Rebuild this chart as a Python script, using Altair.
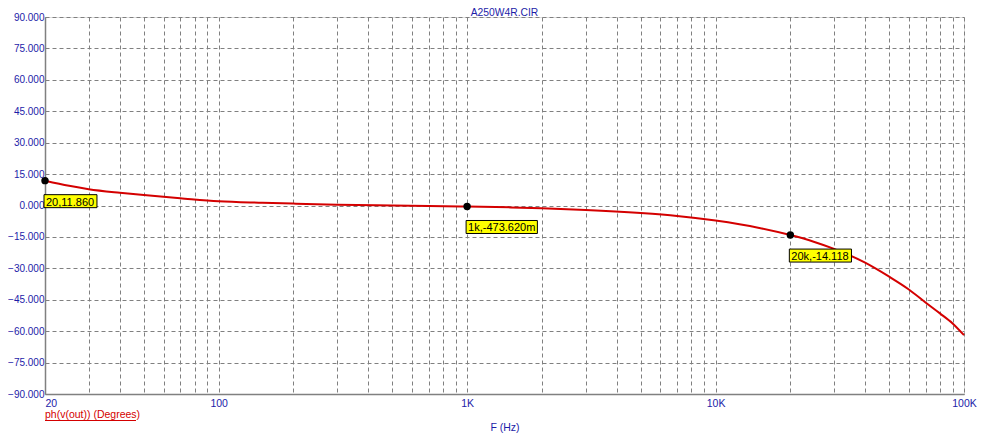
import altair as alt
import pandas as pd

# ---- data ----
freq_hz = [20, 25, 30, 40, 50, 70, 100, 150, 200, 300, 500, 700, 1000, 1500, 2000,
           3000, 5000, 7000, 10000, 15000, 20000, 25000, 30000, 40000, 50000,
           60000, 70000, 80000, 90000, 100000]
phase_deg = [11.86, 9.4, 7.8, 6.1, 5.0, 3.5, 2.0, 1.3, 0.9, 0.4, 0.0, -0.2, -0.47,
             -0.9, -1.3, -2.1, -3.6, -5.0, -7.2, -10.7, -14.118, -17.4, -20.7,
             -27.3, -34.0, -40.1, -46.3, -51.5, -56.3, -61.9]

marker_freq = [20, 1000, 20000]
marker_phase = [11.860, -0.47362, -14.118]
marker_text = ["20,11.860", "1k,-473.620m", "20k,-14.118"]

y_ticks = [-90, -75, -60, -45, -30, -15, 0, 15, 30, 45, 60, 75, 90]
x_grid = ([20, 30, 40, 50, 60, 70, 80, 90] +
          [100, 200, 300, 400, 500, 600, 700, 800, 900] +
          [1000, 2000, 3000, 4000, 5000, 6000, 7000, 8000, 9000] +
          [10000, 20000, 30000, 40000, 50000, 60000, 70000, 80000, 90000, 100000])

title_text = "A250W4R.CIR"
x_title = "F (Hz)"
y_label = "ph(v(out)) (Degrees)"

BLUE = "#1c1ca8"
RED = "#d40000"
GRID = "#808080"
FONT = "Liberation Sans"

curve = pd.DataFrame({"f": freq_hz, "p": phase_deg})
marks = pd.DataFrame({"f": marker_freq, "p": marker_phase, "t": marker_text})

xscale = alt.Scale(type="log", domain=[20, 100000], nice=False)
yscale = alt.Scale(domain=[-90, 90], nice=False, zero=False)

xaxis = alt.Axis(
    values=x_grid,
    labelExpr="datum.value == 20 ? '20' : datum.value == 100 ? '100' : datum.value == 1000 ? '1K' : datum.value == 10000 ? '10K' : datum.value == 100000 ? '100K' : ''",
    title=x_title, grid=True, gridDash=[4, 3], gridColor=GRID, gridOpacity=1,
    ticks=False, domainColor=GRID, domainWidth=1.5, labelColor=BLUE, titleColor=BLUE,
    labelFont=FONT, labelFontSize=10.5, titleFont=FONT, titleFontSize=10.5,
    titleFontWeight="normal", labelPadding=4, titlePadding=14, labelOverlap=False,
    labelBound=False, labelFlush=False,
    labelAlign={"condition": {"test": "datum.value == 20", "value": "left"}, "value": "center"},
)
yaxis = alt.Axis(
    values=y_ticks, format=".3f", title=None, grid=True, gridDash=[4, 3],
    gridColor=GRID, gridOpacity=1, ticks=False, domainColor=GRID, domainWidth=1.5,
    labelColor=BLUE, labelFont=FONT, labelFontSize=10, labelPadding=1,
    labelOverlap=False, labelBound=False, labelFlush=False, tickCount=13,
)

X = alt.X("f:Q", scale=xscale, axis=xaxis)
Y = alt.Y("p:Q", scale=yscale, axis=yaxis)

line = alt.Chart(curve).mark_line(color=RED, strokeWidth=2, interpolate="monotone").encode(x=X, y=Y)

char_w = {",": 3.06, ".": 3.06, "-": 3.66, "k": 5.5, "m": 9.16}


def text_width(s):
    return sum(char_w.get(c, 6.12) for c in s)


layers = [line]
for i in range(len(marker_text)):
    w = text_width(marker_text[i]) + 3
    one = marks.iloc[[i]]
    box = alt.Chart(one).mark_rect(
        fill="#ffff00", stroke="black", strokeWidth=1,
        xOffset=-1, x2Offset=w, yOffset=14, y2Offset=27,
    ).encode(x=X, x2=alt.X2("f"), y=Y, y2=alt.Y2("p"))
    txt = alt.Chart(one).mark_text(
        align="left", baseline="alphabetic", dx=1, dy=25, fontSize=11, font=FONT, color="black",
    ).encode(x=X, y=Y, text="t:N")
    layers += [box, txt]

points = alt.Chart(marks).mark_circle(size=55, color="black", opacity=1).encode(x=X, y=Y)
layers.append(points)

lab_df = pd.DataFrame({"t": [y_label], "h": [title_text]})
ylab = alt.Chart(lab_df).mark_text(
    align="left", baseline="alphabetic", color=RED, fontSize=10.5, font=FONT,
).encode(x=alt.value(0), y=alt.value(401), text="t:N")
uline = alt.Chart(lab_df).mark_rule(color=RED, strokeWidth=1).encode(
    x=alt.value(0), x2=alt.value(91), y=alt.value(403.5))
ttl = alt.Chart(lab_df).mark_text(
    align="center", baseline="alphabetic", color=BLUE, fontSize=10.3, font=FONT,
).encode(x=alt.value(459.5), y=alt.value(-1.5), text="h:N")
layers += [ylab, uline, ttl]

chart = alt.layer(*layers).properties(
    width=919, height=377,
    padding={"left": 37, "top": 9, "right": 18, "bottom": 43},
    autosize="none",
).configure_view(stroke=GRID, strokeWidth=1.5).configure(background="white")

chart.save("out.html", embed_options={"renderer": "svg", "actions": False})
